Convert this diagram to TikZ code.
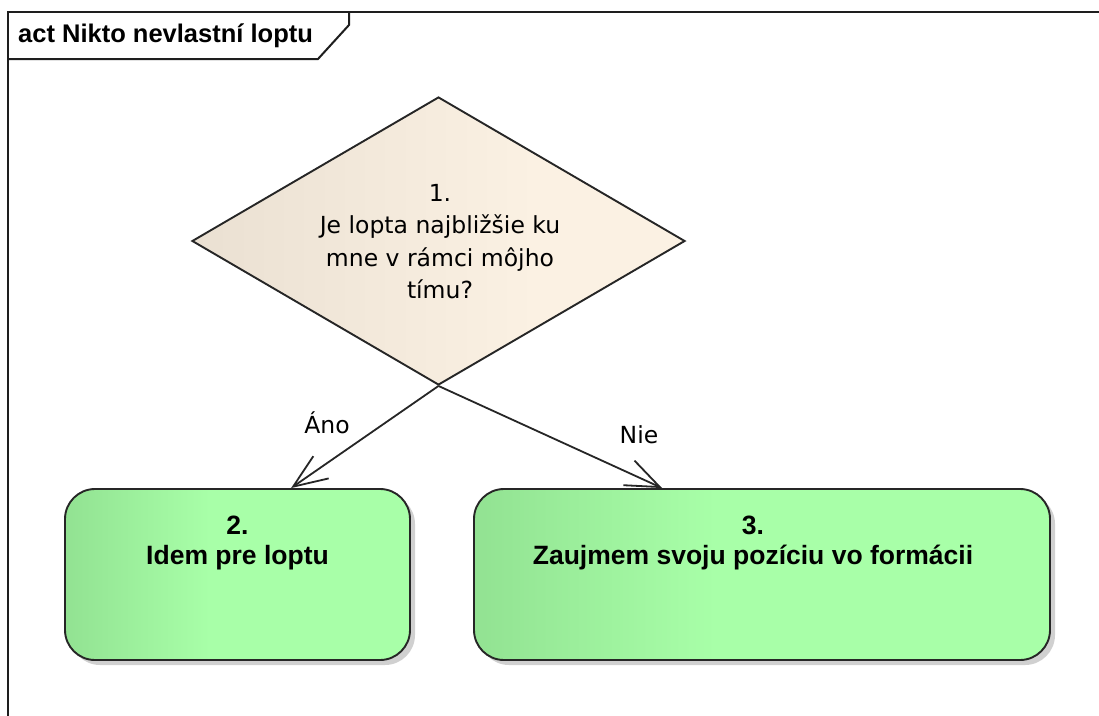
\documentclass[tikz,border=0pt]{standalone}
\usepackage{fontspec}
\setmainfont{DejaVu Sans}
\newfontfamily\boldface{Liberation Sans}
\usetikzlibrary{shapes.geometric,arrows.meta,shadows,calc}
\definecolor{gleft}{RGB}{146,226,146}
\definecolor{gright}{RGB}{168,255,168}
\definecolor{dleft}{RGB}{234,224,210}
\definecolor{dright}{RGB}{251,241,227}
\definecolor{framec}{RGB}{30,30,30}
\pgfdeclarehorizontalshading{boxshade}{100bp}{color(0bp)=(gleft); color(25bp)=(gleft); color(46bp)=(gright); color(100bp)=(gright)}
\pgfdeclarehorizontalshading{diashade}{100bp}{color(0bp)=(dleft); color(25bp)=(dleft); color(60bp)=(dright); color(100bp)=(dright)}
\tikzset{
  framel/.style={draw=framec, line width=2pt},
  decision/.style={diamond, draw=black!85, line width=1.9pt, shading=diashade, inner sep=0pt, aspect=1.71},
  actbox/.style={rectangle, rounded corners=30pt, draw=black!85, line width=1.9pt, shading=boxshade,
     drop shadow={shadow xshift=5pt, shadow yshift=-5pt, fill=black!30, opacity=0.6}},
  plaintext/.style={font=\fontsize{23.5}{32.5}\selectfont, align=center, inner sep=0pt},
  boldtext/.style={font=\boldface\bfseries\fontsize{26.5}{30}\selectfont, align=center, inner sep=0pt},
  titletext/.style={font=\boldface\bfseries\fontsize{25.5}{30}\selectfont, inner sep=0pt},
  arr/.style={draw=black!85, line width=1.8pt, -{Straight Barb[length=34pt, width=27pt, line width=1.8pt]}},
  lbl/.style={font=\fontsize{23.5}{28}\selectfont, inner sep=0pt}
}
\begin{document}
\begin{tikzpicture}[x=1pt, y=-1pt]
\useasboundingbox (0,0) rectangle (1099,715);
\fill[white] (0,0) rectangle (1099,715);
% frame
\draw[framel] (1105,12) -- (8,12) -- (8,720);
\draw[framel] (8,59) -- (318,59) -- (349,25) -- (349,12);
\node[titletext, anchor=west] (title) at (18,36) {act Nikto nevlastní loptu};
% decision
\node[decision, minimum width=493pt, minimum height=288pt] (d) at (438.5,241) {};
\node[plaintext] (dtext) at (440,241.5) {1.\\Je lopta najbližšie ku\\mne v rámci môjho\\tímu?};
% actions
\node[actbox, minimum width=345pt, minimum height=171pt] (b2) at (237.5,574.5) {};
\node[boldtext] (t2) at (237.5,543) {2.\\Idem pre loptu};
\node[actbox, minimum width=576pt, minimum height=171pt] (b3) at (762,574.5) {};
\node[boldtext] (t3) at (753,543) {3.\\Zaujmem svoju pozíciu vo formácii};
% connectors
\draw[arr] (d.south) -- ([xshift=227pt]b2.north west);
\draw[arr] (d.south) -- ([xshift=189pt]b3.north west);
\node[lbl] (ano) at (327,423) {Áno};
\node[lbl] (nie) at (639,435) {Nie};
\end{tikzpicture}
\end{document}
